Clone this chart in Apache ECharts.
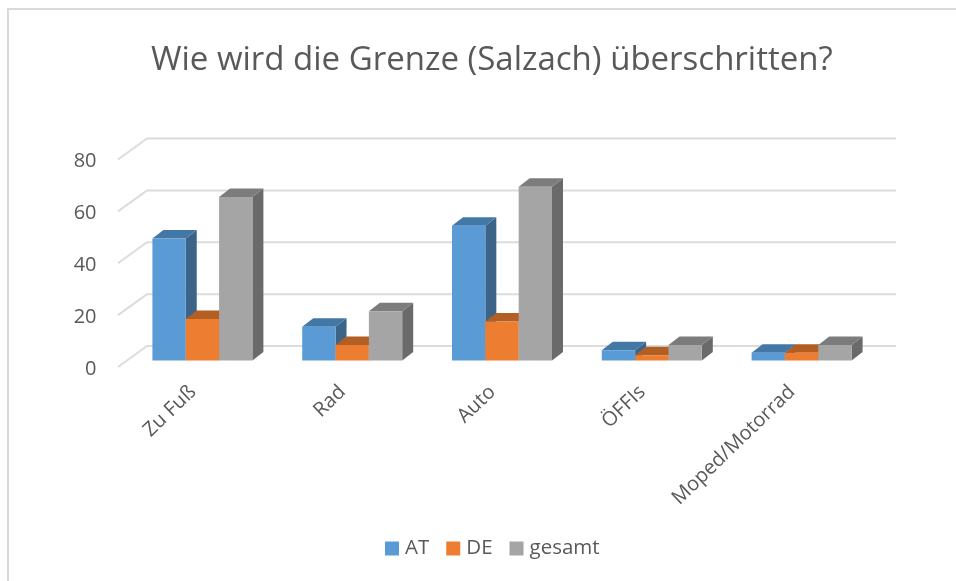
<!DOCTYPE html>
<html><head><meta charset="utf-8">
<style>html,body{margin:0;padding:0;background:#fff}#c{width:956px;height:581px}</style>
<script src="https://cdn.jsdelivr.net/npm/echarts@6/dist/echarts.min.js"></script>
</head><body><div id="c"></div>
<script>
const categories = ['Zu Fuß','Rad','Auto','ÖFFIs','Moped/Motorrad'];
const at = [47,13,52,4,3];
const de = [16,6,15,2,3];
const gesamt = [63,19,67,6,6];
const yTicks = [0,20,40,60,80];

const FONT = '"Open Sans"';
const TXT = '#595959';
const WALL_DX = 29, WALL_DY = 21;      // depth of the chart floor
const BAR_DX = 11, BAR_DY = 8.5;       // depth of one bar
const BAR_OFF_X = 9.5, BAR_OFF_Y = 6.5;// bars stand mid-way on the floor
const BAR_SHARE = 0.2225;              // bar width / category width

function barSeries(name, values, idx, front, top, side) {
  return {
    name, type: 'custom', z: 3 + idx, clip: false,
    itemStyle: { color: front },
    encode: { x: 0, y: 1 },
    data: values.map((v, i) => [i, v]),
    renderItem(params, api) {
      const cat = api.value(0), v = api.value(1);
      const bw = api.size([1, 0])[0] * BAR_SHARE;
      const p = api.coord([cat, v]), b = api.coord([cat, 0]);
      const x0 = p[0] + BAR_OFF_X + (idx - 1.5) * bw, x1 = x0 + bw;
      const yT = p[1] - BAR_OFF_Y, yB = b[1] - BAR_OFF_Y;
      const poly = (pts, fill) => ({ type: 'polygon', shape: { points: pts }, style: { fill } });
      return { type: 'group', children: [
        poly([[x1,yT],[x1+BAR_DX,yT-BAR_DY],[x1+BAR_DX,yB-BAR_DY],[x1,yB]], side),
        poly([[x0,yT],[x0+BAR_DX,yT-BAR_DY],[x1+BAR_DX,yT-BAR_DY],[x1,yT]], top),
        poly([[x0,yT],[x1,yT],[x1,yB],[x0,yB]], front)
      ]};
    }
  };
}

const wallSeries = {
  type: 'custom', name: 'walls', z: 1, silent: true, clip: false,
  encode: { y: 0 },
  data: yTicks.map(v => [v]),
  renderItem(params, api) {
    const v = api.value(0);
    const half = api.size([1, 0])[0] / 2;
    const y = api.coord([0, v])[1];
    const xL = api.coord([0, v])[0] - half;
    const xR = api.coord([categories.length - 1, v])[0] + half;
    const style = { stroke: '#dcdcdc', lineWidth: 2, fill: null };
    return { type: 'polyline', shape: { points: [[xL, y], [xL+WALL_DX, y-WALL_DY], [xR+WALL_DX, y-WALL_DY]] }, style };
  }
};

const chart = echarts.init(document.getElementById('c'), null, { renderer: 'canvas' });
chart.setOption({
  animation: false,
  backgroundColor: '#fff',
  title: {
    text: 'Wie wird die Grenze (Salzach) überschritten?',
    left: 146, top: 39,
    textStyle: { fontFamily: FONT, fontSize: 33, fontWeight: 'normal', color: TXT }
  },
  legend: {
    data: ['AT','DE','gesamt'], bottom: 17, left: 380,
    icon: 'rect', itemWidth: 14, itemHeight: 14, itemGap: 17,
    textStyle: { fontFamily: FONT, fontSize: 20.5, color: TXT, padding: [0,0,0,1] }
  },
  grid: { left: 118, right: 89, top: 159.5, bottom: 214 },
  xAxis: {
    type: 'category', data: categories,
    axisLine: { show: false }, axisTick: { show: false },
    axisLabel: { rotate: 44, interval: 0, margin: 22, fontFamily: FONT, fontSize: 20, color: TXT }
  },
  yAxis: {
    type: 'value', min: 0, max: 80, interval: 20,
    axisLine: { show: false }, axisTick: { show: false }, splitLine: { show: false },
    axisLabel: {
      margin: 21.5, formatter: '{t|{value}}', color: TXT,
      rich: { t: { padding: [4,0,0,0], fontFamily: FONT, fontSize: 20, color: TXT } }
    }
  },
  graphic: [
    { type: 'polyline', silent: true, z: -1, shape: { points: [[8,581],[8,9],[956,9]] }, style: { fill: 'none', stroke: '#d9d9d9', lineWidth: 2 } }
  ],
  series: [
    wallSeries,
    barSeries('AT', at, 0, '#5b9bd5', '#4377a6', '#3b6488'),
    barSeries('DE', de, 1, '#ed7d31', '#b35f23', '#a3561f'),
    barSeries('gesamt', gesamt, 2, '#a5a5a5', '#7c7c7c', '#6a6a6a')
  ]
});
</script></body></html>
